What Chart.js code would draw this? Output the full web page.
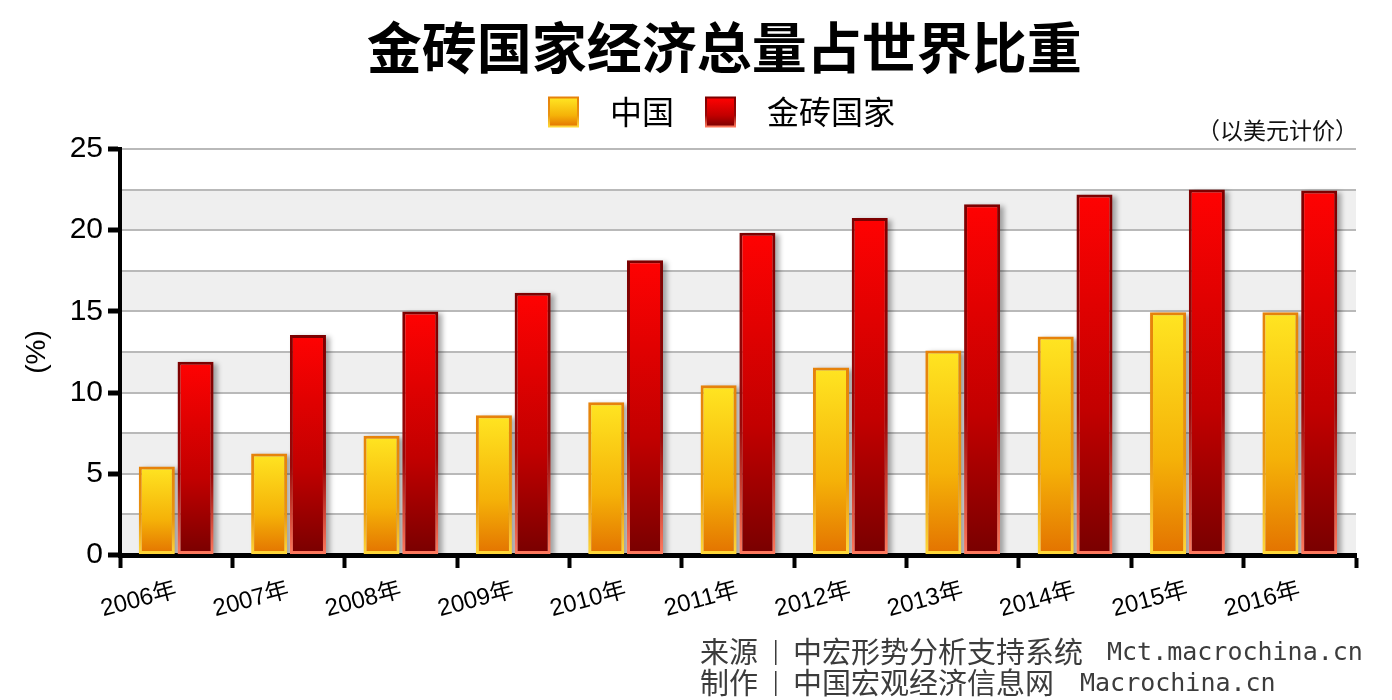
<!DOCTYPE html>
<html>
<head>
<meta charset="utf-8">
<script src="https://cdn.jsdelivr.net/npm/chart.js@4/dist/chart.umd.min.js"></script>
<style>
html,body{margin:0;padding:0;background:#ffffff;}
#wrap{width:1392px;height:700px;}
</style>
</head>
<body>
<div id="wrap"><canvas id="c" width="1392" height="700"></canvas></div>
<script>
// ---- data ----
const categories = ['2006年','2007年','2008年','2009年','2010年','2011年','2012年','2013年','2014年','2015年','2016年'];
const seriesNames = ['中国','金砖国家'];
const chinaShare = [5.45, 6.25, 7.35, 8.6, 9.4, 10.45, 11.55, 12.6, 13.45, 14.95, 14.95];
const bricsShare = [11.9, 13.55, 15.0, 16.15, 18.15, 19.85, 20.75, 21.6, 22.2, 22.5, 22.45];
const yTickLabels = [0, 5, 10, 15, 20, 25];
const titleText = '金砖国家经济总量占世界比重';
const unitNote = '（以美元计价）';
const yTitle = '(%)';
const sourceLine1 = ['来源', '中宏形势分析支持系统', 'Mct.macrochina.cn'];
const sourceLine2 = ['制作', '中国宏观经济信息网', 'Macrochina.cn'];

// ---- styles ----
const CJK = '"Noto Sans CJK SC"';
const chinaFill = ['#ffe522', '#f5b208', '#e37200'];
const chinaEdge = ['#e6820a', '#ea9410', '#ffd93a'];
const bricsFill = ['#ff0202', '#c20000', '#780000'];
const bricsEdge = ['#7c0000', '#9a0808', '#ff7a5e'];

function makeGrad(ctx, y0, y1, stops) {
  const g = ctx.createLinearGradient(0, y0, 0, y1);
  const pos = [0, 0.6, 1];
  stops.forEach((s, i) => g.addColorStop(pos[i], s));
  return g;
}
function barGrad(stops) {
  return (c) => {
    const chart = c.chart;
    if (!chart.chartArea || c.type !== 'data') return stops[1];
    const y = chart.scales.y;
    const top = y.getPixelForValue(c.raw);
    const bot = y.getPixelForValue(0);
    if (!isFinite(top) || !isFinite(bot) || bot - top < 1) return stops[1];
    return makeGrad(chart.ctx, top, bot, stops);
  };
}

const decorPlugin = {
  id: 'decor',
  afterInit(chart) {
    const lg = chart.legend;
    if (lg && !lg._patched) {
      const f = lg.fit.bind(lg);
      lg.fit = function () { f(); this.height += 11; };
      lg._patched = true;
    }
  },
  beforeDraw(chart) {
    const {ctx, chartArea: a, scales: {y}} = chart;
    ctx.save();
    ctx.fillStyle = '#efefef';
    for (let v = 0; v < 25; v += 5) {
      const t = y.getPixelForValue(v + 2.5), b = y.getPixelForValue(v);
      ctx.fillRect(a.left, t, a.right - a.left, b - t);
    }
    ctx.restore();
  },
  beforeDatasetsDraw(chart) {
    const {ctx, chartArea: a} = chart;
    ctx.save();
    ctx.beginPath();
    ctx.rect(a.left, a.top, a.right - a.left + 10, a.bottom - a.top);
    ctx.clip();
    ctx.filter = 'blur(2.5px)';
    ctx.fillStyle = 'rgba(0,0,0,0.32)';
    chart.data.datasets.forEach((d, i) => {
      chart.getDatasetMeta(i).data.forEach(el => {
        const p = el.getProps(['x', 'y', 'base', 'width'], true);
        ctx.fillRect(p.x - p.width / 2 + 4, p.y + 2, p.width, p.base - p.y);
      });
    });
    ctx.restore();
  },
  afterDraw(chart) {
    const {ctx, chartArea: a} = chart;
    ctx.save();
    ctx.fillStyle = '#111';
    ctx.font = '23px ' + CJK;
    ctx.textAlign = 'right';
    ctx.textBaseline = 'middle';
    ctx.fillText(unitNote, a.right + 2, 130);

    ctx.textAlign = 'left';
    ctx.fillStyle = '#3c3c3c';
    const lines = [[sourceLine1, 652, 1107], [sourceLine2, 683, 1080]];
    lines.forEach(([parts, yy, latinX]) => {
      ctx.font = '29px ' + CJK;
      ctx.fillText(parts[0], 700, yy);
      ctx.fillText(parts[1], 793, yy);
      ctx.font = '25px "DejaVu Sans Mono"';
      ctx.fillText(parts[2], latinX, yy + 1);
      ctx.fillRect(775, yy - 12, 1.5, 25);
    });
    ctx.restore();
  }
};

Chart.defaults.font.family = '"Liberation Sans", ' + CJK + ', sans-serif';
Chart.defaults.color = '#000';

new Chart(document.getElementById('c'), {
  type: 'bar',
  data: {
    labels: categories,
    datasets: [
      {
        label: seriesNames[0],
        data: chinaShare,
        backgroundColor: barGrad(chinaFill),
        borderColor: barGrad(chinaEdge),
        borderWidth: 3,
        borderSkipped: false,
        categoryPercentage: 0.69,
        barPercentage: 0.93
      },
      {
        label: seriesNames[1],
        data: bricsShare,
        backgroundColor: barGrad(bricsFill),
        borderColor: barGrad(bricsEdge),
        borderWidth: 3,
        borderSkipped: false,
        categoryPercentage: 0.69,
        barPercentage: 0.93
      }
    ]
  },
  options: {
    responsive: false,
    animation: false,
    devicePixelRatio: 1,
    events: [],
    layout: {padding: {left: 0, right: 36, top: 0, bottom: 0}},
    plugins: {
      tooltip: {enabled: false},
      title: {
        display: true,
        text: titleText + '\u2002',
        fullSize: false,
        color: '#000',
        font: {size: 55, weight: 'bold', family: CJK, lineHeight: 1.2},
        padding: {top: 14, bottom: 0}
      },
      legend: {
        display: true,
        position: 'top',
        fullSize: false,
        labels: {
          boxWidth: 29,
          boxHeight: 29,
          padding: 16,
          color: '#000',
          font: {size: 32, family: CJK},
          generateLabels: (chart) => {
            const ctx = chart.ctx;
            return [
              {
                text: '\u2002' + seriesNames[0] + '\u2002',
                fillStyle: makeGrad(ctx, 98, 127, chinaFill),
                strokeStyle: makeGrad(ctx, 98, 127, chinaEdge),
                lineWidth: 2, hidden: false, datasetIndex: 0, fontColor: '#000'
              },
              {
                text: '\u2002' + seriesNames[1] + '\u2002\u2002',
                fillStyle: makeGrad(ctx, 98, 127, bricsFill),
                strokeStyle: makeGrad(ctx, 98, 127, bricsEdge),
                lineWidth: 2, hidden: false, datasetIndex: 1, fontColor: '#000'
              }
            ];
          }
        }
      }
    },
    scales: {
      x: {
        offset: true,
        afterFit: (s) => { s.height = 145; },
        border: {color: '#000', width: 5},
        grid: {
          offset: true,
          drawOnChartArea: false,
          drawTicks: true,
          tickLength: 13,
          tickColor: '#000',
          tickWidth: 4,
          color: '#000'
        },
        ticks: {
          autoSkip: false,
          minRotation: 15,
          maxRotation: 15,
          padding: 8,
          color: '#000',
          font: {size: 24}
        }
      },
      y: {
        min: 0,
        max: 25,
        afterFit: (s) => { s.width = 120; },
        border: {color: '#000', width: 4},
        grid: {
          color: '#b9b9b9',
          lineWidth: 2,
          drawTicks: true,
          tickLength: 12,
          tickWidth: 5,
          tickColor: (c) => (c.tick && yTickLabels.includes(c.tick.value)) ? '#000' : 'rgba(0,0,0,0)'
        },
        ticks: {
          stepSize: 2.5,
          padding: 5,
          color: '#000',
          font: {size: 30},
          callback: (v) => yTickLabels.includes(v) ? String(v) : ''
        },
        title: {
          display: true,
          text: yTitle,
          color: '#000',
          font: {size: 28},
          padding: {top: 20, bottom: 0}
        }
      }
    }
  },
  plugins: [decorPlugin]
});
</script>
</body>
</html>
